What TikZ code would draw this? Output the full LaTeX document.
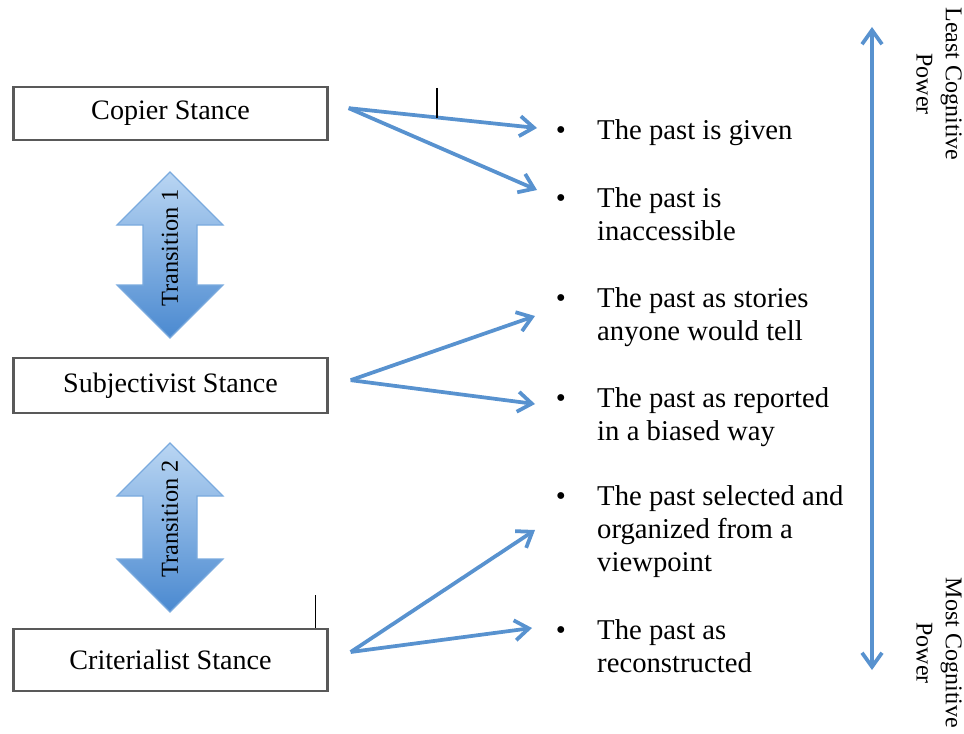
\documentclass[tikz,border=0pt]{standalone}
\usepackage{fontspec}
\setmainfont{Liberation Serif}
\usetikzlibrary{arrows.meta}

\definecolor{flowblue}{RGB}{88,146,207}
\definecolor{shadetop}{RGB}{186,214,243}
\definecolor{shadebot}{RGB}{74,137,208}
\definecolor{shadeline}{RGB}{122,170,222}

\tikzset{
  stance/.style={draw=black!65, line width=2pt, minimum width=9.42cm,
    font=\fontsize{24}{28}\selectfont},
  flow/.style={draw=flowblue, line width=3.2pt,
    -{Straight Barb[length=4.2mm,width=6mm]}},
  item/.style={anchor=north west, align=left, inner sep=0pt,
    font=\fontsize{24.5}{28.2}\selectfont},
  dot/.style={inner sep=0pt, font=\fontsize{24.5}{28.2}\selectfont},
  twoway/.style={draw=shadeline, line width=1pt, top color=shadetop, bottom color=shadebot},
  side/.style={rotate=-90, align=center, inner sep=0pt, font=\fontsize{20.5}{25}\selectfont},
  tick/.style={line width=1.2pt}
}

\begin{document}
\begin{tikzpicture}[x=0.03cm, y=-0.03cm]
  \useasboundingbox (0,0) rectangle (964,733);

  % the three stances
  \node[stance, minimum height=1.59cm] (copier) at (170.5,113.5) {Copier Stance};
  \node[stance, minimum height=1.65cm] (subj) at (170.5,385.5) {Subjectivist Stance};
  \node[stance, minimum height=1.86cm] (crit) at (170.5,660) {Criterialist Stance};

  % transitions
  \shade[twoway] (170,172) -- (223,225) -- (197,225) -- (197,285) -- (223,285) -- (170,338)
    -- (117,285) -- (143,285) -- (143,225) -- (117,225) -- cycle;
  \shade[twoway] (170,443) -- (223,496) -- (197,496) -- (197,559) -- (223,559) -- (170,612)
    -- (117,559) -- (143,559) -- (143,496) -- (117,496) -- cycle;
  \node[rotate=90, font=\fontsize{20.8}{24}\selectfont] (trans1) at (170,248) {Transition 1};
  \node[rotate=90, font=\fontsize{20.8}{24}\selectfont] (trans2) at (170,519) {Transition 2};

  % views of the past
  \node[dot] (b1) at (561,133) {\textbullet};
  \node[dot] (b2) at (561,201) {\textbullet};
  \node[dot] (b3) at (561,301) {\textbullet};
  \node[dot] (b4) at (561,401) {\textbullet};
  \node[dot] (b5) at (561,499) {\textbullet};
  \node[dot] (b6) at (561,633) {\textbullet};
  \node[item] (given) at (597,119) {The past is given};
  \node[item] (inacc) at (597,187) {The past is\\inaccessible};
  \node[item] (stories) at (597,287) {The past as stories\\anyone would tell};
  \node[item] (biased) at (597,387) {The past as reported\\in a biased way};
  \node[item] (select) at (597,485) {The past selected and\\organized from a\\viewpoint};
  \node[item] (recon) at (597,619) {The past as\\reconstructed};

  % forks
  \coordinate (cfork) at ([shift={(0.6cm,0.16cm)}]copier.east);
  \coordinate (sfork) at ([shift={(0.66cm,0.16cm)}]subj.east);
  \coordinate (kfork) at ([shift={(0.66cm,0.24cm)}]crit.east);
  \coordinate (e1) at (537,128);
  \coordinate (e2) at (537,190);
  \coordinate (e3) at (535,316);
  \coordinate (e4) at (535,404);
  \coordinate (e5) at (535,530);
  \coordinate (e6) at (532,628);
  \draw[flow] (cfork) -- (e1);
  \draw[flow] (cfork) -- (e2);
  \draw[flow] (sfork) -- (e3);
  \draw[flow] (sfork) -- (e4);
  \draw[flow] (kfork) -- (e5);
  \draw[flow] (kfork) -- (e6);

  % stray marks
  \draw[tick] (437,88) -- (437,118);
  \draw[tick] ([xshift=-0.39cm]crit.north east) -- ++(0,-33);

  % cognitive power scale
  \coordinate (top) at (872,27);
  \coordinate (bot) at (872,670);
  \draw[flow, {Straight Barb[length=4.2mm,width=6mm]}-{Straight Barb[length=4.2mm,width=6mm]}] (top) -- (bot);
  \node[side] (least) at (939,84) {Least Cognitive\\Power};
  \node[side] (most) at (939,653) {Most Cognitive\\Power};
\end{tikzpicture}
\end{document}
